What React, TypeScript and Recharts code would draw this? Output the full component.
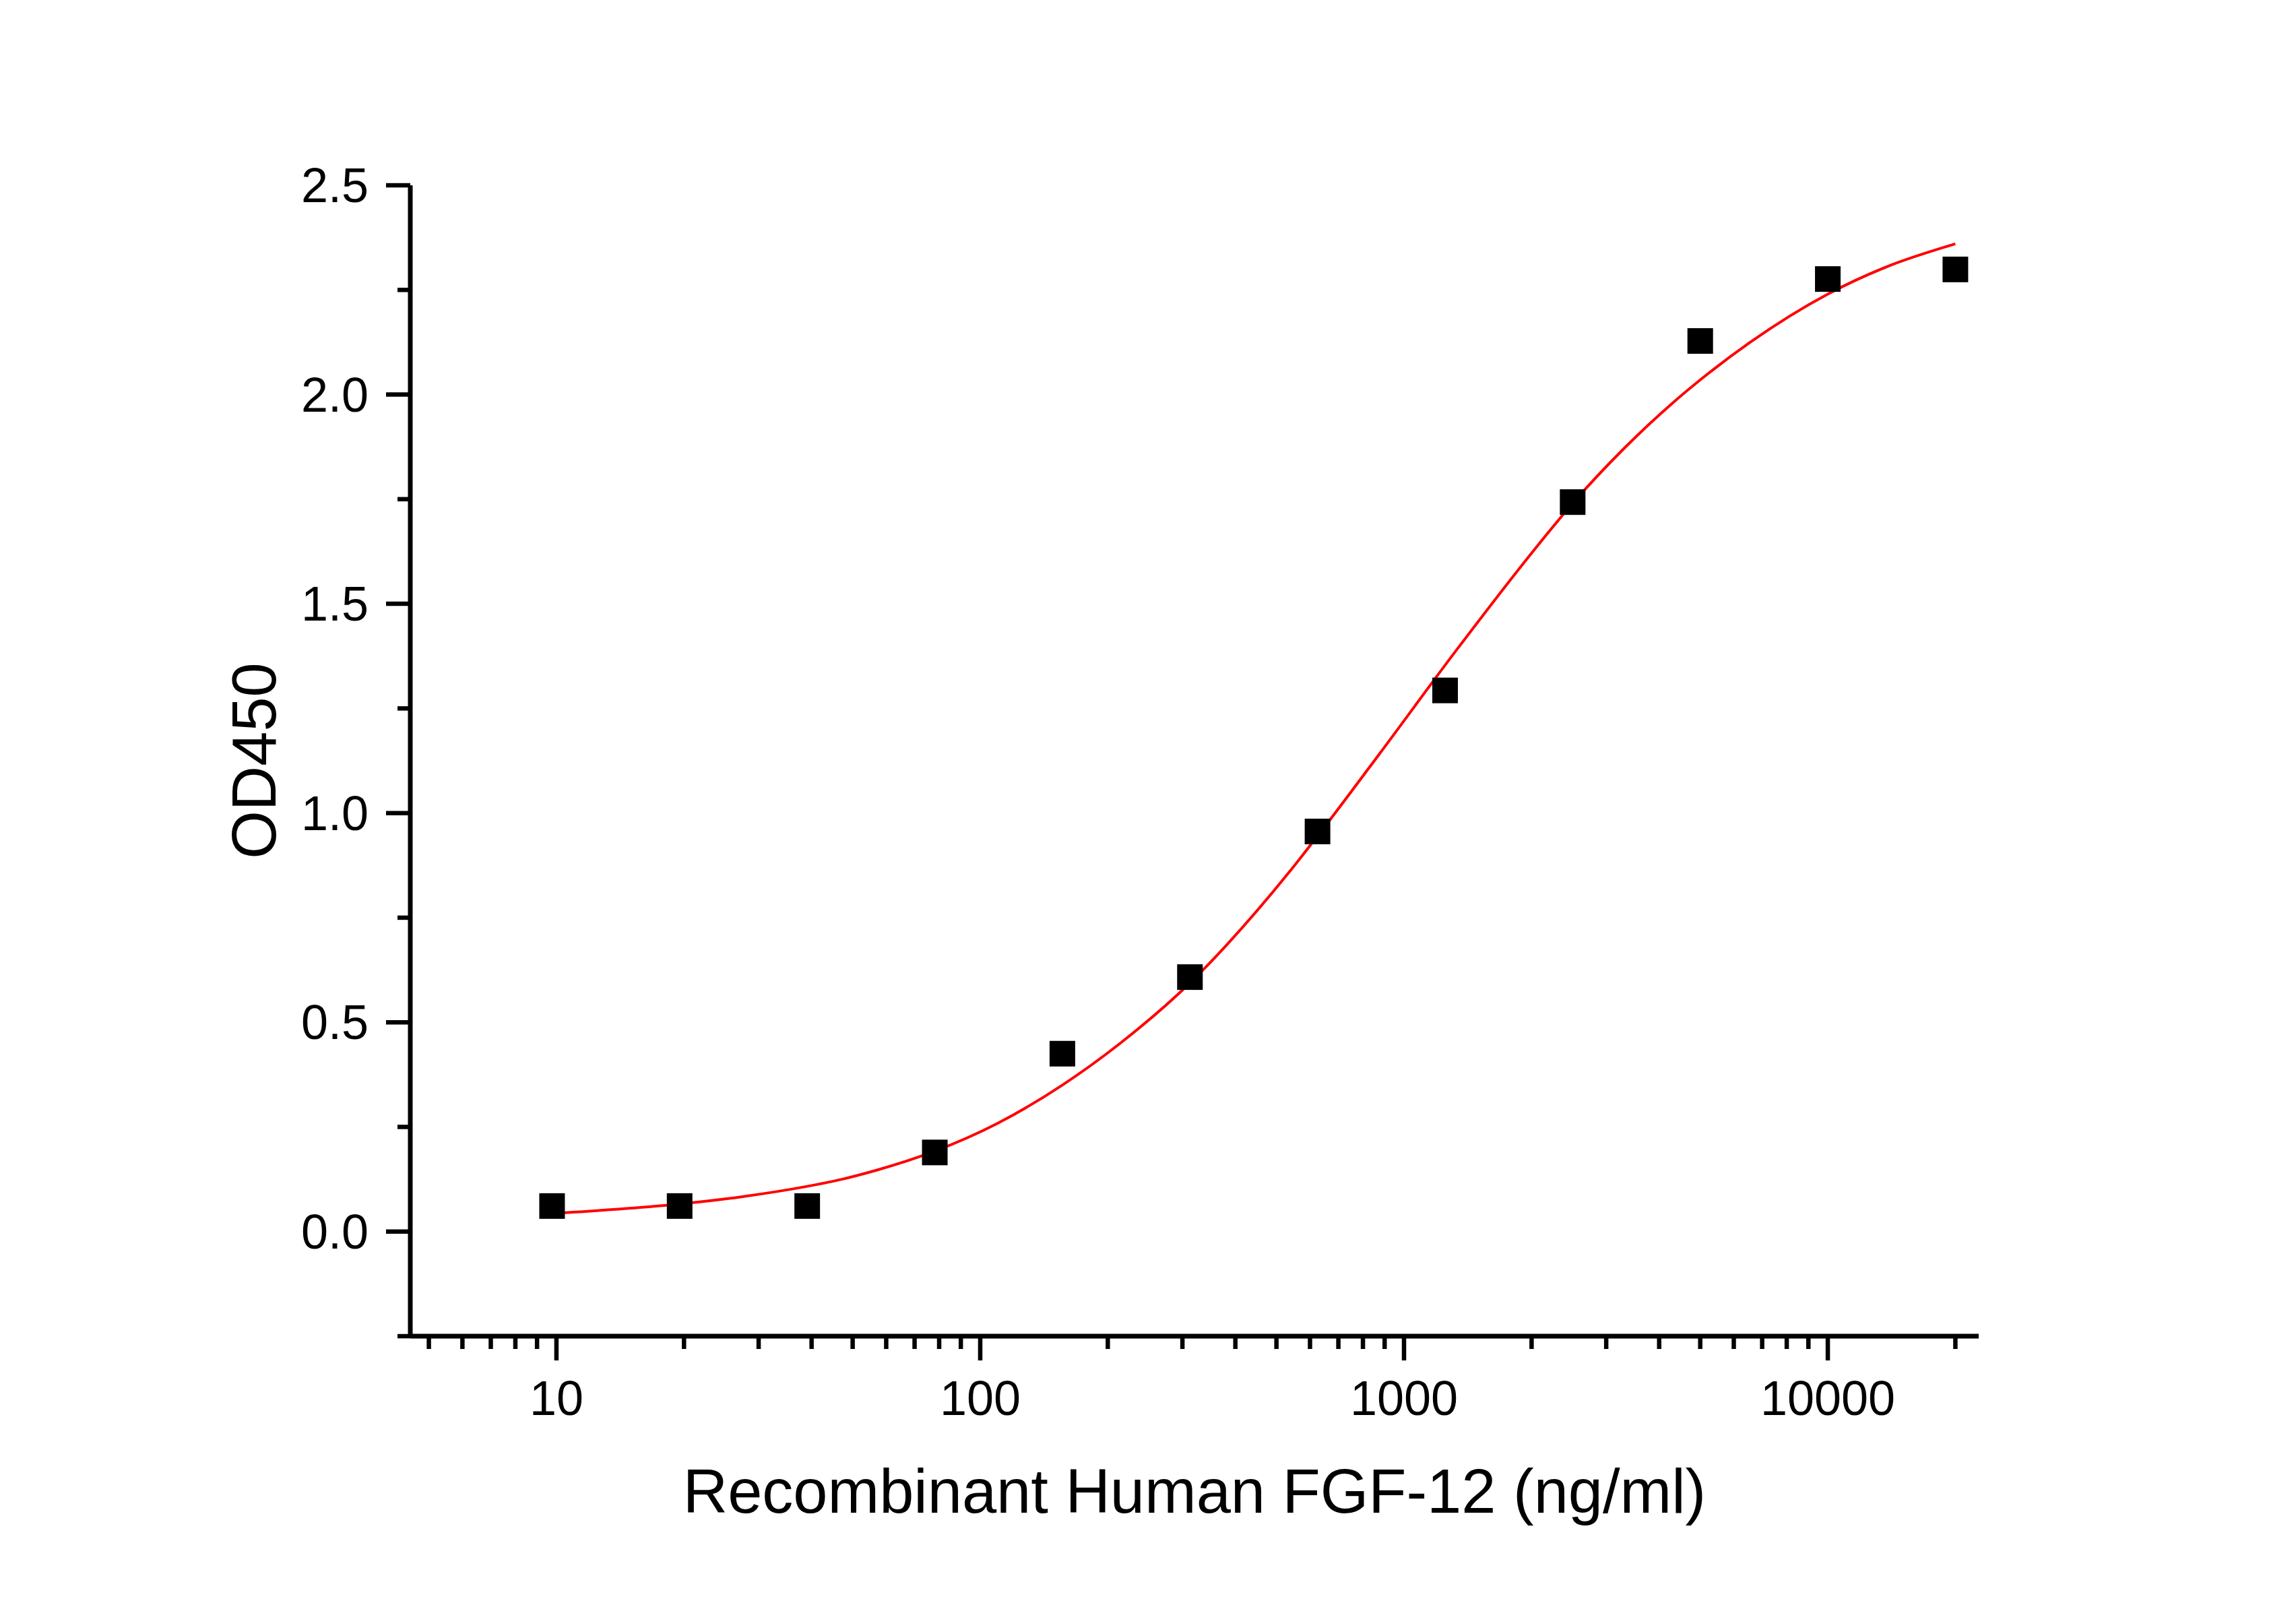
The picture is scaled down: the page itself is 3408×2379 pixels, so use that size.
import React from 'react';
import { ComposedChart, XAxis, YAxis, Line, Scatter } from 'recharts';

const FONT = '"Liberation Sans", Arial, Helvetica, sans-serif';

// Two-fold dilution series (ng/ml) and the measured OD450 readings
const concentrations = [9.766, 19.53, 39.06, 78.125, 156.25, 312.5, 625, 1250, 2500, 5000, 10000, 20000];
const od450 = [0.061, 0.061, 0.061, 0.189, 0.425, 0.608, 0.956, 1.293, 1.743, 2.128, 2.276, 2.299];

// Fitted dose-response curve, sampled along the concentration range
const fitConc = [9.766, 19.53, 27.3, 39.06, 47.2, 56.7, 78.1, 109.6, 156.25, 214, 312.5, 380, 535, 625, 873, 1331, 2070, 2500, 3296, 4306, 5000, 6560, 10000, 13750, 20000];
const fitOD = [0.043, 0.066, 0.083, 0.108, 0.125, 0.146, 0.192, 0.258, 0.35, 0.45, 0.594, 0.683, 0.858, 0.945, 1.14, 1.39, 1.64, 1.74, 1.87, 1.98, 2.035, 2.125, 2.24, 2.305, 2.36];

// Axis ranges and ticks
const xDomain = [4.52, 22700];
const yDomain = [-0.25, 2.5];
const xTicks = [5, 6, 7, 8, 9, 10, 20, 30, 40, 50, 60, 70, 80, 90, 100, 200, 300, 400, 500, 600, 700, 800, 900, 1000, 2000, 3000, 4000, 5000, 6000, 7000, 8000, 9000, 10000, 20000];
const xMajor = [10, 100, 1000, 10000];
const xLabels = ['10', '100', '1000', '10000'];
const yTicks = [-0.25, 0, 0.25, 0.5, 0.75, 1, 1.25, 1.5, 1.75, 2, 2.25, 2.5];
const yMajor = [0, 0.5, 1, 1.5, 2, 2.5];
const yLabels = ['0.0', '0.5', '1.0', '1.5', '2.0', '2.5'];

const xTitle = 'Recombinant Human FGF-12 (ng/ml)';
const yTitle = 'OD450';

const points = concentrations.map((x, i) => ({ x, y: od450[i] }));
const fit = fitConc.map((x, i) => ({ x, y: fitOD[i] }));

// Layout
const W = 3408;
const H = 2379;
const PLOT_LEFT = 609;
const PLOT_RIGHT = 2937;
const PLOT_TOP = 275;
const PLOT_BOTTOM = 1983;
const Y_AXIS_W = 200;
const X_AXIS_H = 200;

const TICK_W = 6.5;
const MAJOR_LEN = 36;
const MINOR_LEN = 19;

const XTick = (props: any) => {
  const { x, y, payload } = props;
  const idx = xMajor.indexOf(payload.value);
  const major = idx >= 0;
  return (
    <g>
      <line x1={x} x2={x} y1={y} y2={y + (major ? MAJOR_LEN : MINOR_LEN)} stroke="#000" strokeWidth={TICK_W} />
      {major && (
        <text x={x} y={y + 117} textAnchor="middle" fontSize={72} fontFamily={FONT} fill="#000">
          {xLabels[idx]}
        </text>
      )}
    </g>
  );
};

const YTick = (props: any) => {
  const { x, y, payload } = props;
  const idx = yMajor.indexOf(payload.value);
  const major = idx >= 0;
  return (
    <g>
      <line x1={x - (major ? MAJOR_LEN : MINOR_LEN)} x2={x} y1={y} y2={y} stroke="#000" strokeWidth={TICK_W} />
      {major && (
        <text x={x - 62} y={y + 25} textAnchor="end" fontSize={72} fontFamily={FONT} fill="#000">
          {yLabels[idx]}
        </text>
      )}
    </g>
  );
};

const XTitle = () => (
  <text
    x={(PLOT_LEFT + PLOT_RIGHT) / 2}
    y={PLOT_BOTTOM + 262}
    textAnchor="middle"
    fontSize={92}
    fontFamily={FONT}
    fill="#000"
  >
    {xTitle}
  </text>
);

const YTitle = () => {
  const cx = PLOT_LEFT - 200;
  const cy = (PLOT_TOP + PLOT_BOTTOM) / 2;
  return (
    <text
      x={cx}
      y={cy}
      transform={`rotate(-90, ${cx}, ${cy})`}
      textAnchor="middle"
      fontSize={92}
      fontFamily={FONT}
      fill="#000"
    >
      {yTitle}
    </text>
  );
};

const Square = (props: any) => {
  const { cx, cy } = props;
  const s = 38;
  return <rect x={cx - s / 2} y={cy - s / 2} width={s} height={s} fill="#000" />;
};

export default function App() {
  return (
    <div style={{ position: 'absolute', left: 0, top: 0, width: W, height: H, background: '#fff' }}>
      <ComposedChart
        width={W}
        height={H}
        margin={{
          top: PLOT_TOP,
          right: W - PLOT_RIGHT,
          bottom: H - PLOT_BOTTOM - X_AXIS_H,
          left: PLOT_LEFT - Y_AXIS_W,
        }}
      >
        <XAxis
          type="number"
          dataKey="x"
          scale="log"
          domain={xDomain}
          allowDataOverflow
          ticks={xTicks}
          interval={0}
          tickSize={0}
          tickMargin={0}
          tickLine={false}
          tick={<XTick />}
          axisLine={{ stroke: '#000', strokeWidth: 7 }}
          height={X_AXIS_H}
          label={{ content: () => <XTitle /> }}
        />
        <YAxis
          type="number"
          dataKey="y"
          domain={yDomain}
          allowDataOverflow
          ticks={yTicks}
          interval={0}
          tickSize={0}
          tickMargin={0}
          tickLine={false}
          tick={<YTick />}
          axisLine={{ stroke: '#000', strokeWidth: 7 }}
          width={Y_AXIS_W}
          label={{ content: () => <YTitle /> }}
        />
        <Line
          data={fit}
          dataKey="y"
          type="monotone"
          stroke="#ff0000"
          strokeWidth={4}
          dot={false}
          activeDot={false}
          isAnimationActive={false}
        />
        <Scatter data={points} dataKey="y" fill="#000" shape={Square} isAnimationActive={false} />
      </ComposedChart>
    </div>
  );
}
